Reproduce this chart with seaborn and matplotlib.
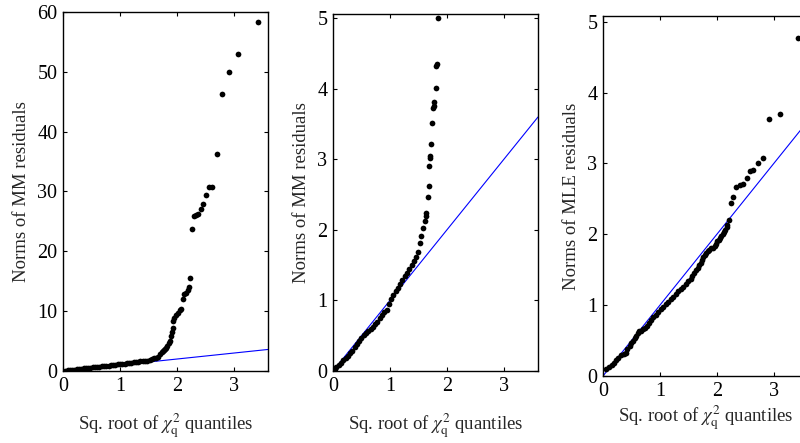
import matplotlib
matplotlib.use("Agg")
import matplotlib.pyplot as plt
import pandas as pd
import seaborn as sns

# Panel 1: MM residuals, all observations
mm_all_q = [0.04, 0.08, 0.12, 0.16, 0.20, 0.24, 0.28, 0.32, 0.36, 0.40, 0.44, 0.48,
            0.52, 0.56, 0.60, 0.64, 0.68, 0.72, 0.76, 0.80, 0.84, 0.88, 0.92, 0.96,
            1.00, 1.04, 1.08, 1.12, 1.16, 1.20, 1.24, 1.28, 1.32, 1.36, 1.40, 1.44,
            1.48, 1.52, 1.56, 1.60, 1.63, 1.67, 1.70, 1.73, 1.75, 1.77, 1.79, 1.81,
            1.83, 1.86, 1.88, 1.90, 1.92, 1.93, 1.94, 1.95, 1.98, 2.02, 2.05, 2.08,
            2.11, 2.13, 2.16, 2.19, 2.21, 2.23, 2.27, 2.30, 2.33, 2.37, 2.42, 2.46,
            2.51, 2.57, 2.61, 2.71, 2.80, 2.91, 3.08, 3.42]
mm_all_norm = [0.05, 0.10, 0.15, 0.20, 0.25, 0.30, 0.33, 0.37, 0.42, 0.47, 0.52, 0.56,
               0.60, 0.65, 0.68, 0.72, 0.76, 0.80, 0.85, 0.90, 0.95, 1.00, 1.05, 1.10,
               1.15, 1.20, 1.25, 1.30, 1.35, 1.40, 1.45, 1.50, 1.55, 1.60, 1.65, 1.70,
               1.75, 1.85, 1.95, 2.10, 2.25, 2.4, 2.8, 3.1, 3.3, 3.5, 3.7, 3.9,
               4.1, 4.6, 5.0, 5.8, 6.6, 7.2, 8.3, 8.8, 9.4, 9.7, 10.2, 10.3,
               12.1, 12.9, 13.0, 13.6, 14.0, 15.5, 23.7, 25.9, 26.0, 26.2, 27.0, 27.9,
               29.4, 30.8, 30.8, 36.2, 46.3, 50.0, 52.9, 58.4]

# Panel 2: MM residuals, reduced set
mm_sub_q = [0.03, 0.06, 0.10, 0.14, 0.18, 0.22, 0.26, 0.30, 0.34, 0.38, 0.42, 0.46,
            0.50, 0.54, 0.58, 0.62, 0.66, 0.70, 0.74, 0.78, 0.82, 0.86, 0.90, 0.94,
            0.98, 1.02, 1.06, 1.10, 1.14, 1.18, 1.22, 1.26, 1.30, 1.34, 1.38, 1.42,
            1.46, 1.49, 1.52, 1.55, 1.58, 1.61, 1.63, 1.64, 1.66, 1.68, 1.69, 1.70,
            1.71, 1.72, 1.74, 1.76, 1.77, 1.78, 1.80, 1.81, 1.82, 1.85]
mm_sub_norm = [0.03, 0.06, 0.09, 0.12, 0.15, 0.18, 0.21, 0.25, 0.29, 0.34, 0.38, 0.43,
               0.47, 0.51, 0.54, 0.57, 0.60, 0.63, 0.66, 0.70, 0.75, 0.80, 0.83, 0.87,
               0.95, 1.02, 1.08, 1.13, 1.18, 1.24, 1.29, 1.34, 1.39, 1.44, 1.50, 1.56,
               1.62, 1.69, 1.82, 1.92, 2.02, 2.12, 2.19, 2.24, 2.46, 2.62, 2.91, 3.02,
               3.05, 3.22, 3.52, 3.73, 3.76, 3.81, 4.01, 4.33, 4.35, 5.00]

# Panel 3: MLE residuals
mle_q = [0.06, 0.10, 0.15, 0.19, 0.23, 0.27, 0.32, 0.36, 0.40, 0.43, 0.47, 0.50,
         0.53, 0.56, 0.58, 0.61, 0.64, 0.67, 0.71, 0.74, 0.78, 0.81, 0.84, 0.88,
         0.93, 0.97, 1.02, 1.06, 1.11, 1.15, 1.19, 1.23, 1.28, 1.32, 1.37, 1.41,
         1.46, 1.50, 1.54, 1.57, 1.60, 1.63, 1.66, 1.69, 1.72, 1.74, 1.76, 1.79,
         1.81, 1.84, 1.87, 1.90, 1.93, 1.96, 1.98, 2.01, 2.04, 2.06, 2.08, 2.11,
         2.13, 2.15, 2.17, 2.18, 2.21, 2.24, 2.28, 2.33, 2.40, 2.45, 2.52, 2.58,
         2.64, 2.72, 2.81, 2.92, 3.10, 3.42]
mle_norm = [0.10, 0.12, 0.15, 0.19, 0.22, 0.26, 0.29, 0.31, 0.33, 0.38, 0.43, 0.47,
            0.50, 0.53, 0.57, 0.61, 0.63, 0.64, 0.66, 0.68, 0.71, 0.75, 0.79, 0.83,
            0.86, 0.91, 0.95, 0.98, 1.01, 1.05, 1.09, 1.12, 1.16, 1.20, 1.23, 1.26,
            1.30, 1.34, 1.37, 1.41, 1.45, 1.49, 1.52, 1.56, 1.59, 1.64, 1.68, 1.71,
            1.73, 1.76, 1.78, 1.80, 1.81, 1.84, 1.86, 1.90, 1.92, 1.95, 1.97, 2.00,
            2.03, 2.06, 2.10, 2.13, 2.20, 2.44, 2.52, 2.66, 2.69, 2.71, 2.79, 2.89,
            2.90, 3.01, 3.07, 3.63, 3.70, 4.77]

ref_slope = 1.0

sns.set_style("ticks")
plt.rcParams['font.family'] = ['Liberation Serif', 'DejaVu Serif']
plt.rcParams['mathtext.fontset'] = 'stix'

fig = plt.figure(figsize=(8, 4.43), dpi=100)

panels = [
    (mm_all_q, mm_all_norm, 'Norms of MM residuals', 60, [0, 10, 20, 30, 40, 50, 60],
     [63 / 800, 72 / 443, 205 / 800, 359 / 443], 11),
    (mm_sub_q, mm_sub_norm, 'Norms of MM residuals', 5.06, [0, 1, 2, 3, 4, 5],
     [333 / 800, 72 / 443, 205 / 800, 357 / 443], 11),
    (mle_q, mle_norm, 'Norms of MLE residuals', 5.08, [0, 1, 2, 3, 4, 5],
     [603 / 800, 67 / 443, 205 / 800, 360 / 443], 2),
]

for q, norm, ylab, ymax, yticks, rect, xpad in panels:
    ax = fig.add_axes(rect)
    df = pd.DataFrame({'q': q, 'norm': norm})
    sns.scatterplot(data=df, x='q', y='norm', ax=ax, color='black', s=17,
                    linewidth=0, zorder=3)
    ax.axline((0, 0), slope=ref_slope, color='#0000ff', lw=0.8, zorder=2)
    ax.set_xlim(0, 3.6)
    ax.set_ylim(0, ymax)
    ax.set_xticks([0, 1, 2, 3])
    ax.set_yticks(yticks)
    ax.tick_params(direction='in', length=3, width=0.8, top=True, right=True,
                   labelsize=14.5, pad=4, colors='black')
    for sp in ax.spines.values():
        sp.set_linewidth(1.0)
        sp.set_color('black')
    ax.set_ylabel(ylab, fontsize=13.5, labelpad=5)
    ax.set_xlabel(r'Sq. root of $\chi^2_{\mathrm{q}}$ quantiles', fontsize=13.5,
                  labelpad=xpad)

fig.savefig('out.png', dpi=100)
